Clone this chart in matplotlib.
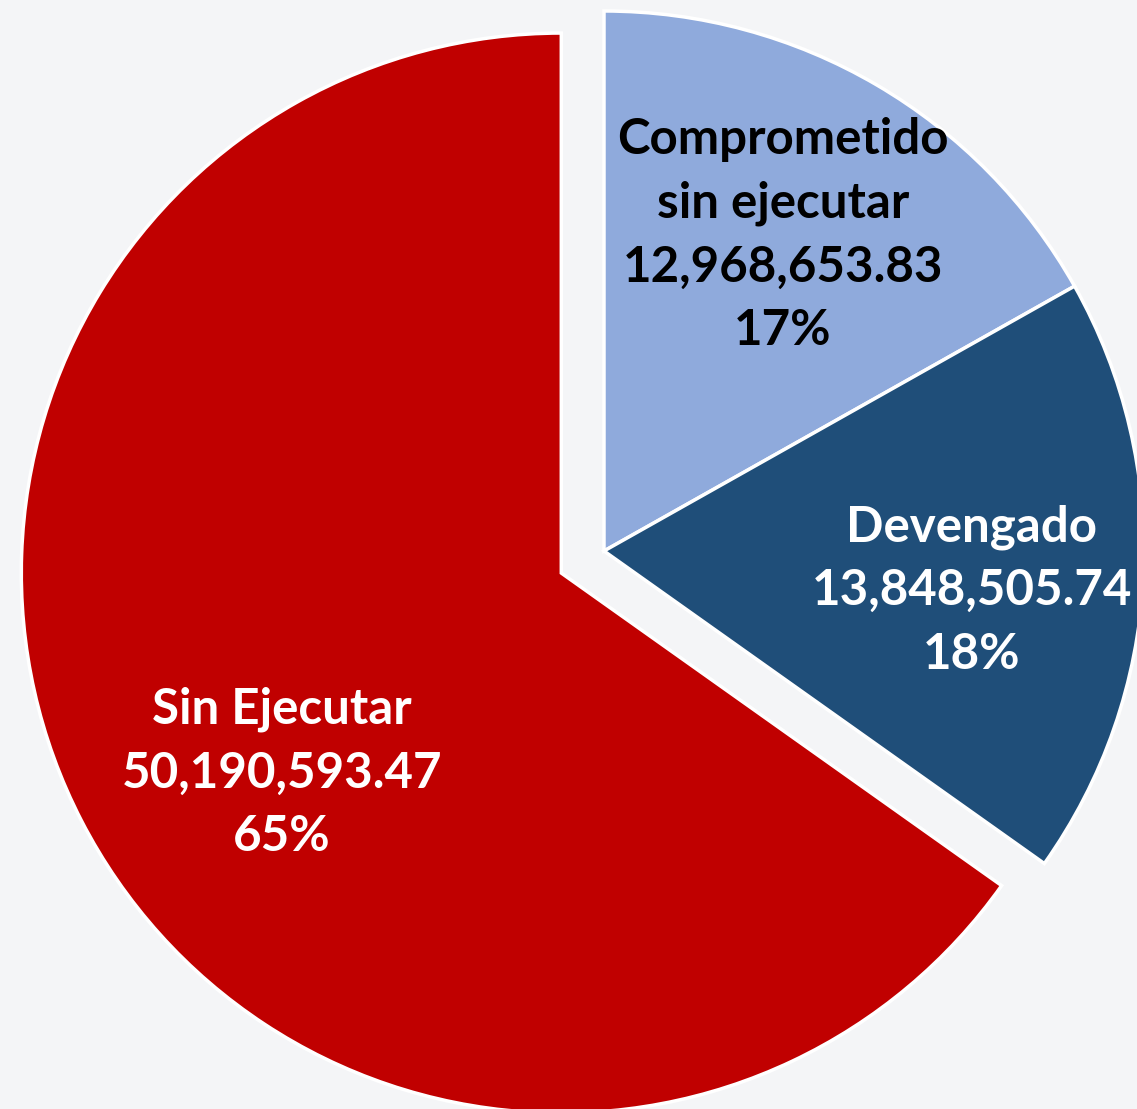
import numpy as np
import matplotlib
matplotlib.use("Agg")
import matplotlib.pyplot as plt

# slices, clockwise from 12 o'clock
names = ["Comprometido\nsin ejecutar", "Devengado", "Sin Ejecutar"]
values = [12968653.83, 13848505.74, 50190593.47]
colors = ["#8FAADC", "#1F4E79", "#C00000"]
text_colors = ["black", "white", "white"]

# label placement: fraction of radius, angle nudge (deg)
label_r = [0.672, 0.685, 0.636]
label_dth = [0.8, -3.1, 8.3]

W, H = 1137, 1109
R = 540
fig = plt.figure(figsize=(W / 100, H / 100), dpi=100)
fig.patch.set_facecolor("#F4F5F7")
ax = fig.add_axes([0, 0, 1, 1])

# explode is in data units here (radius is in pixels)
explode = [0, 0, 0.089 * R]
wedges, _ = ax.pie(values, colors=colors, explode=explode, startangle=90,
                   counterclock=False, radius=R, center=(604, 558),
                   frame=True,
                   wedgeprops=dict(edgecolor="white", linewidth=2.5))
ax.set_xlim(0, W)
ax.set_ylim(0, H)
ax.set_aspect("equal")
ax.axis("off")

total = sum(values)
for w, name, v, c, fr, dth in zip(wedges, names, values, text_colors, label_r, label_dth):
    th = np.deg2rad((w.theta1 + w.theta2) / 2 + dth)
    cx, cy = w.center
    x = cx + fr * w.r * np.cos(th)
    y = cy + fr * w.r * np.sin(th)
    ax.text(x, y, f"{name}\n{v:,.2f}\n{v / total:.0%}", ha="center", va="center",
            color=c, fontsize=35.5, fontweight="bold", family="Lato",
            linespacing=1.5)

fig.savefig("out.png", dpi=100, facecolor=fig.get_facecolor())
